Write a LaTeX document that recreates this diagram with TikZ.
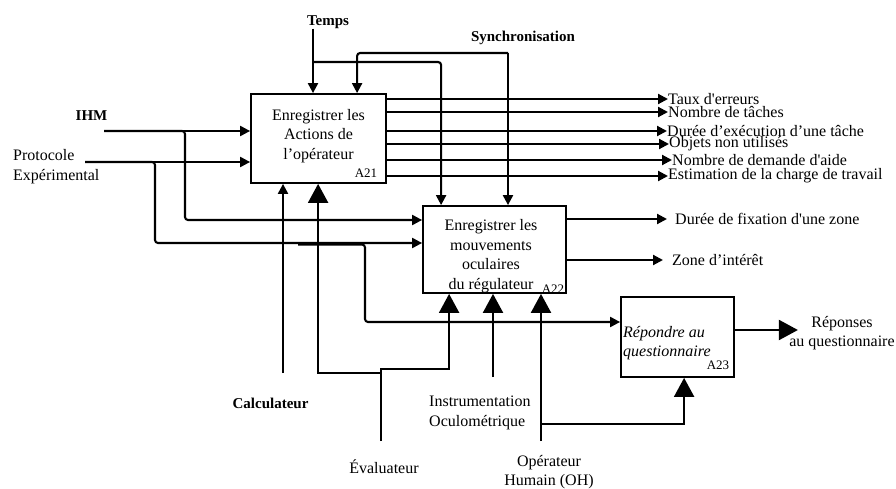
\documentclass[tikz,border=0pt]{standalone}
\usepackage{fontspec}
\setmainfont{Liberation Serif}
\usetikzlibrary{arrows.meta}

\begin{document}
\begin{tikzpicture}[x=1pt,y=-1pt]
    \tikzstyle{activity} = [rectangle, draw, line width=1.8pt, inner sep=0pt]
    \tikzstyle{txt} = [font=\fontsize{16}{19.5}\selectfont, inner sep=0pt, align=center]
    \tikzstyle{tag} = [font=\fontsize{15}{18}\selectfont\bfseries, inner sep=0pt]
    \tikzstyle{ident} = [font=\fontsize{13}{15}\selectfont, inner sep=0pt]
    \tikzstyle{flow} = [line width=2.1pt, -{Triangle[length=10pt,width=10pt]}]
    \tikzstyle{bigflow} = [line width=2.1pt, -{Triangle[length=19pt,width=20pt]}]

    \useasboundingbox (0,0) rectangle (896,489);

    % Activities
    \node[activity, minimum width=135pt, minimum height=89pt] (a21) at (318.5,138.5) {};
    \node[activity, minimum width=143pt, minimum height=87pt] (a22) at (494.5,249.5) {};
    \node[activity, minimum width=113pt, minimum height=80pt] (a23) at (677.5,337) {};
    \node[txt] (a21t) at (318.5,136) {Enregistrer les\\Actions de\\l’opérateur};
    \node[txt] (a22t) at (491,256) {Enregistrer les\\mouvements\\oculaires\\du régulateur};
    \node[txt, align=left, anchor=west, font=\fontsize{16}{19.5}\selectfont\itshape] (a23t) at (623,343) {Répondre au\\questionnaire};
    \node[ident] (a21id) at (366,173) {A21};
    \node[ident] (a22id) at (553,289) {A22};
    \node[ident] (a23id) at (718,365) {A23};

    % Labels
    \node[tag] (temps) at (328,22) {Temps};
    \node[tag] (synch) at (523,38) {Synchronisation};
    \node[tag] (ihm) at (91.5,116) {IHM};
    \node[txt, align=left, anchor=west] (proto) at (13,166.5) {Protocole\\Expérimental};
    \node[tag] (calc) at (270.5,403) {Calculateur};
    \node[txt, align=left, anchor=west] (instr) at (429,413) {Instrumentation\\Oculométrique};
    \node[txt] (eval) at (384,467) {Évaluateur};
    \node[txt] (oper) at (549,472) {Opérateur\\Humain (OH)};
    \node[txt] (rep) at (842,333) {Réponses\\au questionnaire};

    % Outputs
    \foreach \y/\x/\t [count=\i] in {99/668/{Taux d\textquotesingle erreurs}, 112/668/{Nombre de tâches}, 131/667/{Durée d’exécution d’une tâche}, 144/669/{Objets non utilisés}, 160/672/{Nombre de demande d\textquotesingle aide}, 176/668/{Estimation de la charge de travail}}
    {
        \node[txt, anchor=west] (out\i) at (\x,\y) {\t};
        \draw[flow] (a21.east |- out\i.west) -- (out\i.west);
    }
    \node[txt, anchor=west] (out7) at (675,219) {Durée de fixation d\textquotesingle une zone};
    \node[txt, anchor=west] (out8) at (672,260) {Zone d’intérêt};
    \draw[flow] (a22.east |- out7.west) -- ([xshift=-8pt]out7.west);
    \draw[flow] (a22.east |- out8.west) -- ([xshift=-9pt]out8.west);
    \draw[bigflow] ([yshift=7pt]a23.east) -- ++(63,0);

    % Controls from above
    \coordinate (tjoin) at (313,62);
    \coordinate (sjoin) at (508,53);
    \draw[flow] (tjoin |- temps.south) -- (tjoin |- a21.north);
    \draw[flow, rounded corners=3pt] (tjoin) -| ([xshift=19pt]a22.north west);
    \draw[flow] (sjoin) -- (sjoin |- a22.north);
    \draw[flow, rounded corners=3pt] (sjoin) -| ([xshift=107pt]a21.north west);

    % Inputs
    \coordinate (ihm0) at (104,131);
    \coordinate (proto0) at (85,162);
    \coordinate (ihmb) at (185,220);
    \coordinate (protob) at (155,243);
    \draw[flow] (ihm0) -- (ihm0 -| a21.west);
    \draw[flow] (proto0) -- (proto0 -| a21.west);
    \draw[flow, rounded corners=3pt] (ihm0) -| (ihmb) -- (ihmb -| a22.west);
    \draw[flow, rounded corners=3pt] (proto0) -| (protob) -- (protob -| a22.west);
    \coordinate (qin) at (298,244.5);
    \coordinate (qturn) at (365,322);
    \draw[flow, rounded corners=3pt] (qin) -| (qturn) -- (qturn -| a23.west);

    % Mechanisms from below
    \coordinate (calc0) at (283,373);
    \coordinate (eval0) at (381,441);
    \coordinate (ej) at (381,369);
    \coordinate (ek) at (381,373);
    \coordinate (instr0) at (493,377);
    \coordinate (oper0) at (541,441);
    \coordinate (oj) at (541,424);
    \draw[flow] (calc0) -- (calc0 |- a21.south);
    \draw[bigflow] (eval0) -- (ej) -| ([xshift=27pt]a22.south west);
    \draw[bigflow] (ek) -| ([xshift=68pt]a21.south west);
    \draw[bigflow] (instr0) -- (instr0 |- a22.south);
    \draw[bigflow] (oper0) -- (oper0 |- a22.south);
    \draw[bigflow] (oj) -| ([xshift=64pt]a23.south west);
\end{tikzpicture}
\end{document}
